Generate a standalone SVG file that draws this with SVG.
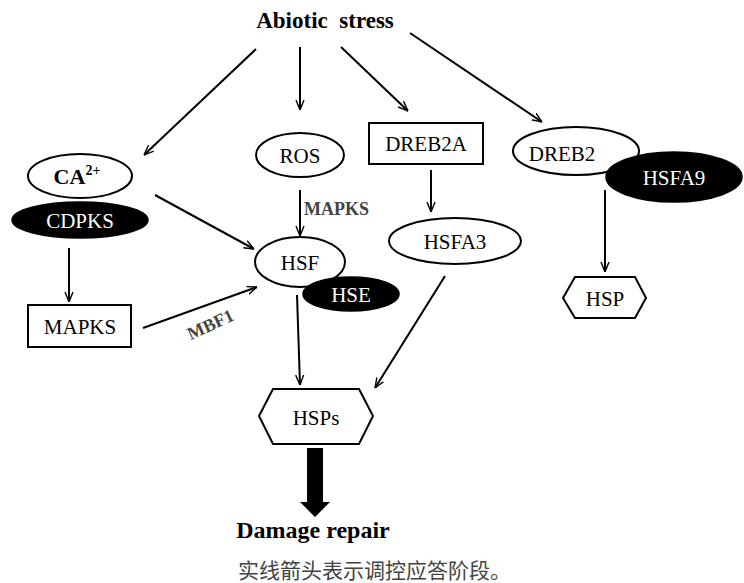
<svg xmlns="http://www.w3.org/2000/svg" width="744" height="583" viewBox="0 0 744 583">
<style>
.n{fill:#fff;stroke:#000;stroke-width:2}
.b{fill:#000;stroke:#000;stroke-width:1.5}
.t{font-family:"Liberation Serif","Times New Roman",serif;font-size:21px;fill:#000;text-anchor:middle}
.w{fill:#fff}
.bold{font-weight:bold}
.lbl{font-family:"Liberation Serif","Times New Roman",serif;font-size:18px;font-weight:bold;fill:#444}
.c{stroke:#000;stroke-width:2;fill:none;marker-end:url(#ah)}
</style>
<defs>
<marker id="ah" viewBox="0 0 10 10" refX="10" refY="5" markerWidth="10" markerHeight="10" markerUnits="userSpaceOnUse" orient="auto">
<path d="M0,1 L10,5 L0,9" fill="none" stroke="#000" stroke-width="1.4"/>
</marker>
</defs>
<rect width="744" height="583" fill="#fff"/>
<g id="connectors">
<line class="c" x1="256" y1="49" x2="144" y2="155"/>
<line class="c" x1="300" y1="47" x2="300" y2="110"/>
<line class="c" x1="341" y1="47" x2="408" y2="111"/>
<line class="c" x1="410" y1="33" x2="542" y2="122"/>
<line class="c" x1="300" y1="190" x2="300" y2="236"/>
<line class="c" x1="155" y1="195" x2="254" y2="249"/>
<line class="c" x1="69" y1="248" x2="69" y2="302"/>
<line class="c" x1="143" y1="328" x2="257" y2="287"/>
<line class="c" x1="431" y1="170" x2="431" y2="212"/>
<line class="c" x1="605" y1="190" x2="605" y2="272"/>
<line class="c" x1="297" y1="295" x2="300" y2="385"/>
<line class="c" x1="445" y1="276" x2="375" y2="388"/>
<path d="M307,448 H323 V502 H330 L315,517 L300,502 H307 Z" fill="#000"/>
<text class="lbl" x="304" y="215">MAPKS</text>
<text class="lbl" x="213" y="330" text-anchor="middle" transform="rotate(-25 213 330)">MBF1</text>
</g>
<g id="abiotic">
<text class="t bold" x="325" y="28" style="font-size:23px" xml:space="preserve">Abiotic  stress</text>
</g>
<g id="ca">
<ellipse class="n" cx="80" cy="176" rx="52" ry="22"/>
<text class="t bold" x="77" y="184" style="font-size:22px">CA<tspan style="font-size:14px" dy="-9">2+</tspan></text>
</g>
<g id="cdpks">
<ellipse class="b" cx="80" cy="220" rx="68" ry="18"/>
<text class="t w" x="80" y="228">CDPKS</text>
</g>
<g id="ros">
<ellipse class="n" cx="300" cy="155" rx="44" ry="22"/>
<text class="t" x="300" y="163">ROS</text>
</g>
<g id="dreb2a">
<rect class="n" x="369" y="123" width="114" height="41"/>
<text class="t" x="426" y="151">DREB2A</text>
</g>
<g id="dreb2">
<ellipse class="n" cx="576" cy="151" rx="63" ry="24"/>
<text class="t" x="562" y="161">DREB2</text>
</g>
<g id="hsfa9">
<ellipse class="b" cx="674" cy="177" rx="68" ry="25"/>
<text class="t w" x="674" y="185">HSFA9</text>
</g>
<g id="hsfa3">
<ellipse class="n" cx="455" cy="241" rx="66" ry="23"/>
<text class="t" x="455" y="249">HSFA3</text>
</g>
<g id="hsp">
<polygon class="n" points="563,298 575,277 635,277 646,298 635,318 575,318"/>
<text class="t" x="605" y="306">HSP</text>
</g>
<g id="hsf">
<ellipse class="n" cx="300" cy="262" rx="45" ry="25"/>
<text class="t" x="300" y="270">HSF</text>
</g>
<g id="hse">
<ellipse class="b" cx="351" cy="294" rx="48" ry="17"/>
<text class="t w" x="351" y="302">HSE</text>
</g>
<g id="mapks">
<rect class="n" x="28" y="305" width="103" height="42"/>
<text class="t" x="80" y="334">MAPKS</text>
</g>
<g id="hsps">
<polygon class="n" points="259,416 273,389 359,389 373,416 359,444 273,444"/>
<text class="t" x="316" y="425">HSPs</text>
</g>
<g id="damage">
<text class="t bold" x="313" y="538" style="font-size:24px">Damage repair</text>
</g>
<text x="238" y="578" font-family="'Noto Sans CJK SC',sans-serif" font-size="21" fill="#444">实线箭头表示调控应答阶段。</text>
</svg>
